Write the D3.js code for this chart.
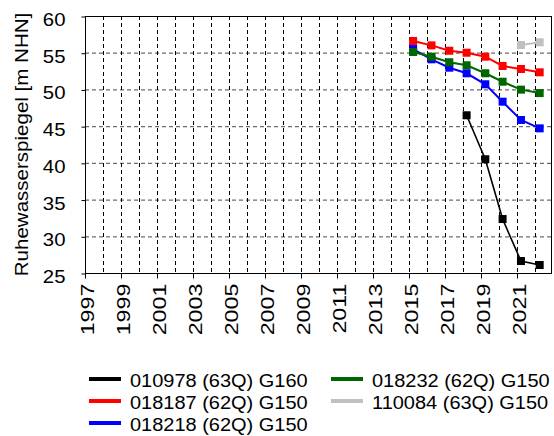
<!DOCTYPE html>
<html>
<head>
<meta charset="utf-8">
<script src="https://cdn.jsdelivr.net/npm/d3@7"></script>
<style>
  body { margin: 0; background: #fff; }
  svg text { font-family: "Liberation Sans", Arial, sans-serif; fill: #000; }
</style>
</head>
<body>
<svg id="chart" width="554" height="436"></svg>
<script>
// sampling dates (decimal years, readings taken in spring)
var years = [2015.23, 2016.25, 2017.24, 2018.2, 2019.24, 2020.2, 2021.22, 2022.26];

var names = ["010978 (63Q) G160", "018187 (62Q) G150", "018218 (62Q) G150",
             "018232 (62Q) G150", "110084 (63Q) G150"];
var colors = ["#000000", "#ff0000", "#0000ff", "#006600", "#c0c0c0"];

// Ruhewasserspiegel [m NHN] per well
var w010978 = [null, null, null, 46.48, 40.49, 32.35, 26.63, 26.09];
var w018187 = [56.6, 56.0, 55.27, 55.0, 54.46, 53.19, 52.78, 52.33];
var w018218 = [55.5, 54.1, 52.96, 52.2, 50.7, 48.33, 45.84, 44.7];
var w018232 = [55.1, 54.46, 53.7, 53.29, 52.2, 51.05, 49.97, 49.5];
var w110084 = [null, null, null, null, null, null, 56.05, 56.42];
var seriesValues = [w010978, w018187, w018218, w018232, w110084];

var yTicks = [25, 30, 35, 40, 45, 50, 55, 60];
var xTickYears = [1997, 1999, 2001, 2003, 2005, 2007, 2009, 2011, 2013, 2015, 2017, 2019, 2021];
var gridYears = d3.range(1998, 2023);

var svg = d3.select("#chart");
var pLeft = 85, pRight = 551, pTop = 16, pBottom = 273;
var fs = 18.5;

var x = d3.scaleLinear().domain([1997, 1997 + (pRight - pLeft) / 18]).range([pLeft, pRight]);
var y = d3.scaleLinear().domain([25, 60]).range([pBottom, pTop]);

// grid
svg.append("g").selectAll("line")
    .data(yTicks.filter(function(d) { return d > 25 && d < 60; }))
  .enter().append("line")
    .attr("x1", pLeft).attr("x2", pRight)
    .attr("y1", function(d) { return y(d) + 0.5; })
    .attr("y2", function(d) { return y(d) + 0.5; })
    .attr("stroke", "#6e6e6e").attr("stroke-width", 1.2)
    .attr("stroke-dasharray", "4,3");

svg.append("g").selectAll("line")
    .data(gridYears)
  .enter().append("line")
    .attr("x1", function(d) { return Math.round(x(d)) + 0.5; })
    .attr("x2", function(d) { return Math.round(x(d)) + 0.5; })
    .attr("y1", pTop).attr("y2", pBottom)
    .attr("stroke", "#000").attr("stroke-width", 1)
    .attr("stroke-dasharray", "4,3");

// frame
svg.append("rect")
    .attr("x", pLeft + 0.5).attr("y", pTop + 0.5)
    .attr("width", pRight - pLeft).attr("height", pBottom - pTop)
    .attr("fill", "none").attr("stroke", "#000").attr("stroke-width", 1);

// y axis
var gy = svg.append("g")
    .attr("transform", "translate(" + (pLeft + 0.5) + ",0.5)")
    .call(d3.axisLeft(y).tickValues(yTicks).tickSize(4).tickSizeOuter(0));
gy.select(".domain").remove();
gy.selectAll(".tick line").attr("stroke", "#000");
gy.selectAll(".tick text")
    .attr("x", null).attr("dy", null)
    .attr("font-size", fs)
    .attr("text-anchor", "end")
    .attr("transform", "translate(-20,9) scale(1.1,1)");

// x axis
var gx = svg.append("g")
    .attr("transform", "translate(0," + (pBottom + 0.5) + ")")
    .call(d3.axisBottom(x).tickValues(xTickYears).tickSize(5).tickSizeOuter(0).tickFormat(d3.format("d")));
gx.select(".domain").remove();
gx.selectAll(".tick").attr("transform", function(d) { return "translate(" + (Math.round(x(d)) + 0.5) + ",0)"; });
gx.selectAll(".tick line").attr("stroke", "#000");
gx.selectAll(".tick text")
    .attr("x", null).attr("y", null).attr("dy", null)
    .attr("font-size", fs)
    .attr("text-anchor", "end")
    .attr("transform", "translate(8,10) rotate(-90) scale(1.26,1)");

// y title
svg.append("text")
    .attr("font-size", fs)
    .attr("text-anchor", "middle")
    .attr("transform", "translate(28," + ((pTop + pBottom) / 2) + ") rotate(-90) scale(1.11,1)")
    .text("Ruhewasserspiegel [m NHN]");

// series
var series = seriesValues.map(function(vals, i) {
  return {
    name: names[i], color: colors[i],
    points: years.map(function(yr, j) { return { year: yr, value: vals[j] }; })
      .filter(function(p) { return p.value != null; })
  };
});

var line = d3.line()
    .x(function(d) { return x(d.year); })
    .y(function(d) { return y(d.value); });

var sg = svg.append("g").selectAll("g")
    .data(series)
  .enter().append("g");

sg.append("path")
    .attr("d", function(d) { return line(d.points); })
    .attr("fill", "none")
    .attr("stroke", function(d) { return d.color; })
    .attr("stroke-width", function(d, i) { return i === 0 ? 1.6 : 2; });

sg.selectAll("rect")
    .data(function(d) { return d.points.map(function(p) { return { p: p, color: d.color }; }); })
  .enter().append("rect")
    .attr("x", function(d) { return x(d.p.year) - 4; })
    .attr("y", function(d) { return y(d.p.value) - 4; })
    .attr("width", 8).attr("height", 8)
    .attr("fill", function(d) { return d.color; });

// legend
var lg = svg.append("g").selectAll("g")
    .data(series)
  .enter().append("g")
    .attr("transform", function(d, i) {
      var col = Math.floor(i / 3), row = i % 3;
      return "translate(" + (col === 0 ? 89 : 331) + "," + (379 + row * 22) + ")";
    });

lg.append("line")
    .attr("x1", 0).attr("x2", 32)
    .attr("stroke", function(d) { return d.color; })
    .attr("stroke-width", 4);

lg.append("text")
    .attr("font-size", fs)
    .attr("transform", "translate(41,7.5) scale(1.08,1)")
    .text(function(d) { return d.name; });
</script>
</body>
</html>
